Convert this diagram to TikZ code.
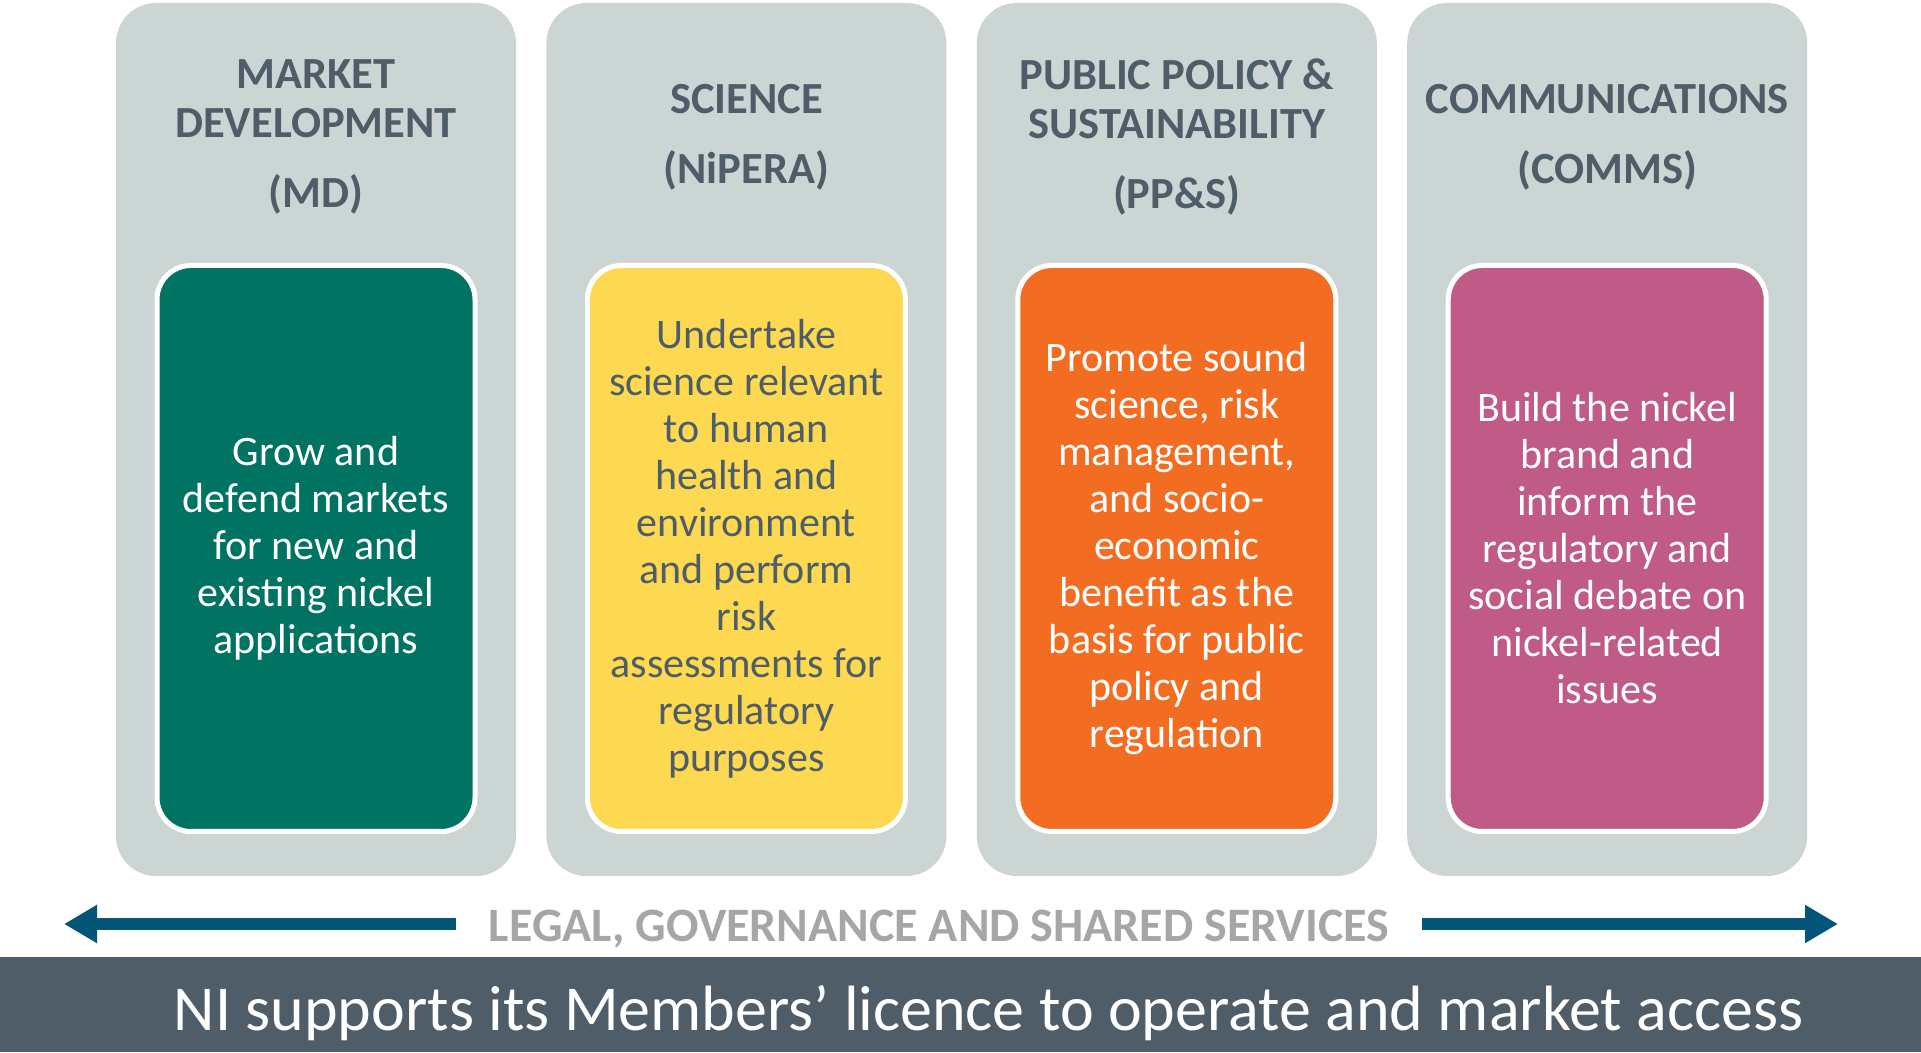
\documentclass[tikz,border=0pt]{standalone}
\usepackage{fontspec}
\setmainfont{Carlito}
\usetikzlibrary{positioning,arrows.meta}
\definecolor{panelgray}{HTML}{CBD5D4}
\definecolor{slate}{HTML}{4E5D68}
\definecolor{mdgreen}{HTML}{007363}
\definecolor{sciyellow}{HTML}{FCD951}
\definecolor{ppsorange}{HTML}{F26D22}
\definecolor{commspink}{HTML}{C05A87}
\definecolor{arrowblue}{HTML}{045679}
\definecolor{govgray}{HTML}{A6A6A6}
\begin{document}
\begin{tikzpicture}[x=1pt,y=1pt,
    panel/.style={fill=panelgray, rounded corners=40pt, minimum width=400pt,
      minimum height=873pt, inner sep=0pt},
    headtext/.style={text=slate, font=\fontsize{44.5}{49}\selectfont\bfseries,
      align=center, inner sep=0pt},
    bodybox/.style={draw=white, line width=5pt, rounded corners=34pt,
      minimum width=318pt, minimum height=566pt, inner sep=0pt, align=center,
      text=white, font=\fontsize{42}{47}\selectfont},
    govtext/.style={text=govgray, font=\fontsize{48}{52}\selectfont\bfseries,
      inner xsep=33pt, inner ysep=0pt},
    sharedarrow/.style={draw=arrowblue, line width=12pt,
      -{Triangle[length=33pt,width=36pt]}},
    bartext/.style={text=white, font=\fontsize{64}{70}\selectfont, inner sep=0pt}]
  \useasboundingbox (0,0) rectangle (1921,1052);

  % the four panels
  \node[panel] (md) at (316,612.5) {};
  \node[panel, right=30pt of md] (sci) {};
  \node[panel, right=30pt of sci] (pps) {};
  \node[panel, right=30pt of pps] (comms) {};

  \node[headtext] (mdhead) at ([yshift=-134.5pt]md.north)
    {MARKET\\DEVELOPMENT\\[21pt](MD)};
  \node[headtext] (scihead) at ([yshift=-134.5pt]sci.north)
    {SCIENCE\\[21pt](NiPERA)};
  \node[headtext] (ppshead) at ([yshift=-134.5pt]pps.north)
    {PUBLIC POLICY \&\\SUSTAINABILITY\\[21pt](PP\&S)};
  \node[headtext] (commshead) at ([yshift=-134.5pt]comms.north)
    {COMMUNICATIONS\\[21pt](COMMS)};

  \node[bodybox, fill=mdgreen] (mdbox) at ([yshift=-109pt]md.center)
    {Grow and\\defend markets\\for new and\\existing nickel\\applications};
  \node[bodybox, fill=sciyellow, text=slate] (scibox) at ([yshift=-109pt]sci.center)
    {Undertake\\science relevant\\to human\\health and\\environment\\and perform\\risk\\assessments for\\regulatory\\purposes};
  \node[bodybox, fill=ppsorange] (ppsbox) at ([yshift=-109pt]pps.center)
    {Promote sound\\science, risk\\management,\\and socio-\\economic\\benefit as the\\basis for public\\policy and\\regulation};
  \node[bodybox, fill=commspink] (commsbox) at ([yshift=-109pt]comms.center)
    {Build the nickel\\brand and\\inform the\\regulatory and\\social debate on\\nickel-related\\issues};

  % shared services
  \node[govtext] (gov) at (939,123) {LEGAL, GOVERNANCE AND SHARED SERVICES};
  \coordinate (legleft) at (64,128);
  \coordinate (legright) at (1838,128);
  \draw[sharedarrow] (gov.west |- legleft) -- (legleft);
  \draw[sharedarrow] (gov.east |- legright) -- (legright);

  % bottom bar
  \node[fill=slate, minimum width=1921pt, minimum height=95pt, inner sep=0pt] (bar)
    at (960.5,47.5) {};
  \node[bartext] (slogan) at ([xshift=28pt,yshift=-9pt]bar.center)
    {NI supports its Members’ licence to operate and market access};
\end{tikzpicture}
\end{document}
